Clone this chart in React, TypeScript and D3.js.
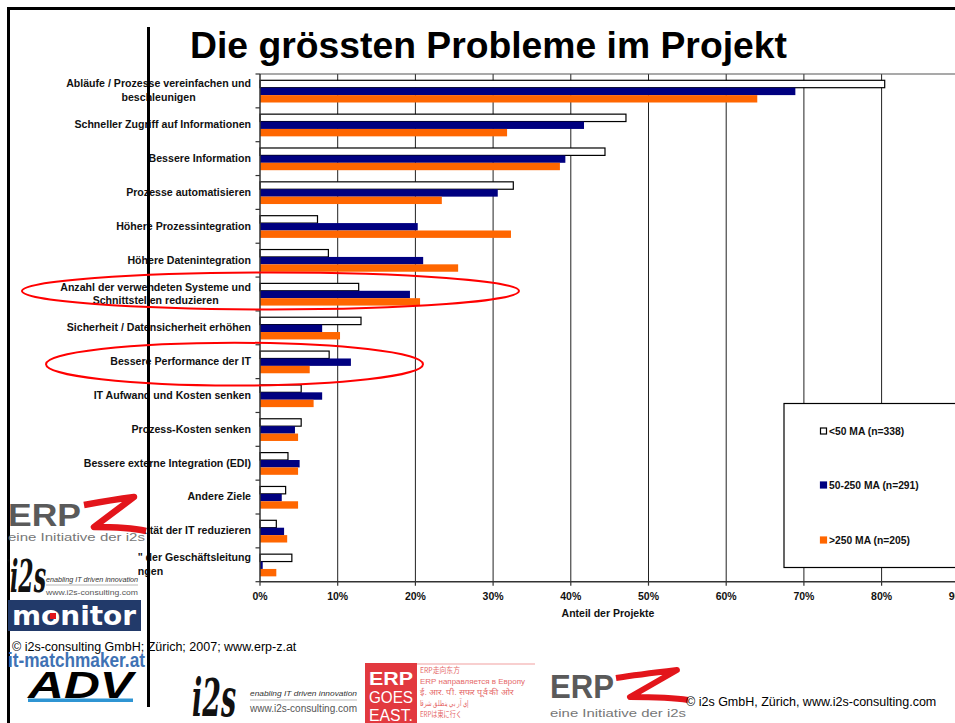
import React from "react";
import * as d3 from "d3";

const categories = [
  "Abläufe / Prozesse vereinfachen und\nbeschleunigen",
  "Schneller Zugriff auf Informationen",
  "Bessere Information",
  "Prozesse automatisieren",
  "Höhere Prozessintegration",
  "Höhere Datenintegration",
  "Anzahl der verwendeten Systeme und\nSchnittstellen reduzieren",
  "Sicherheit / Datensicherheit erhöhen",
  "Bessere Performance der IT",
  "IT Aufwand und Kosten senken",
  "Prozess-Kosten senken",
  "Bessere externe Integration (EDI)",
  "Andere Ziele",
  "Komplexität der IT reduzieren",
  "„Eigene Lieblingsprojekte\" der Geschäftsleitung\ndurchbringen",
];

const seriesNames = ["<50 MA (n=338)", "50-250 MA (n=291)", ">250 MA (n=205)"];
const small = [80.4, 47.1, 44.4, 32.6, 7.4, 8.8, 12.7, 13.0, 8.9, 5.3, 5.3, 3.6, 3.3, 2.1, 4.1];
const mid = [68.9, 41.7, 39.3, 30.6, 20.3, 21.0, 19.3, 8.0, 11.7, 8.0, 4.5, 5.1, 2.8, 3.1, 0.35];
const large = [64.0, 31.8, 38.6, 23.4, 32.3, 25.5, 20.6, 10.3, 6.4, 6.9, 4.9, 4.9, 4.9, 3.5, 2.1];
const xTicks = [0, 10, 20, 30, 40, 50, 60, 70, 80, 90];
const highlighted = ["Anzahl der verwendeten Systeme und\nSchnittstellen reduzieren", "Bessere Performance der IT"];

const seriesValues = [small, mid, large];
const fills = ["#ffffff", "#000080", "#ff6600"];
const strokes = ["#000000", "none", "none"];

const LABEL_FONT = "bold 10.6px 'Liberation Sans', Arial, sans-serif";
let ctx: CanvasRenderingContext2D | null = null;
function measure(t: string): number {
  if (!ctx) ctx = document.createElement("canvas").getContext("2d");
  if (!ctx) return t.length * 5.5;
  ctx.font = LABEL_FONT;
  return ctx.measureText(t).width;
}

export default function App() {
  const W = 955, H = 723;
  const x = d3.scaleLinear().domain([0, 90]).range([260, 959.3]);
  const y = d3.scaleBand<string>().domain(categories).range([74, 581.7]);
  const inner = d3.scaleBand<number>().domain([0, 1, 2]).range([6.3, 6.3 + 22.2]);
  const plotTop = 74, plotBottom = 581.7;
  const font = "'Liberation Sans', Arial, sans-serif";
  const labelRight = 251;

  const ellipse = (cat: string, x0: number, x1: number, padTop: number, padBottom: number) => {
    const b = y(cat)!;
    const top = b + padTop, bot = b + y.bandwidth() - padBottom;
    return { cx: (x0 + x1) / 2, cy: (top + bot) / 2, rx: (x1 - x0) / 2, ry: (bot - top) / 2 };
  };
  const e1 = ellipse(highlighted[0], 22, 519, -4.5, 1.5);
  const e2 = ellipse(highlighted[1], 46, 423, -2, -7);

  return (
    <svg width={W} height={H} style={{ position: "absolute", left: 0, top: 0, background: "#fff" }} fontFamily={font}>
      <rect x={0} y={0} width={W} height={H} fill="#fff" />
      {/* frame */}
      <rect x={8.5} y={8.5} width={980} height={760} fill="none" stroke="#000" strokeWidth={3} />

      {/* title */}
      <text x={190} y={58} fontSize={37.3} fontWeight="bold" fill="#000">Die grössten Probleme im Projekt</text>

      {/* gridlines */}
      {xTicks.slice(1).map((t) => (
        <line key={"g" + t} x1={x(t)} x2={x(t)} y1={plotTop} y2={plotBottom} stroke="#222" strokeWidth={1} />
      ))}
      <line x1={260} x2={970} y1={plotTop} y2={plotTop} stroke="#555" strokeWidth={1.2} />

      {/* bars */}
      {categories.map((c, i) => (
        <g key={"b" + i}>
          {seriesValues.map((vals, s) => (
            <rect
              key={s}
              x={x(0)}
              y={y(c)! + inner(s)!}
              width={x(vals[i]) - x(0)}
              height={inner.bandwidth()}
              fill={fills[s]}
              stroke={strokes[s]}
              strokeWidth={s === 0 ? 1.2 : 0}
            />
          ))}
        </g>
      ))}

      {/* axes */}
      <line x1={260} x2={260} y1={plotTop} y2={plotBottom} stroke="#333" strokeWidth={1.5} />
      {d3.range(categories.length + 1).map((k) => {
        const yy = plotTop + k * y.step();
        return <line key={"yt" + k} x1={255.5} x2={260} y1={yy} y2={yy} stroke="#333" strokeWidth={1.2} />;
      })}
      <line x1={260} x2={970} y1={plotBottom} y2={plotBottom} stroke="#333" strokeWidth={1.5} />
      {xTicks.map((t) => (
        <g key={"xt" + t}>
          <line x1={x(t)} x2={x(t)} y1={plotBottom} y2={plotBottom + 4} stroke="#333" strokeWidth={1.2} />
          <text x={x(t)} y={600} textAnchor="middle" fontSize={10.5} fontWeight="bold" fill="#111">{t + "%"}</text>
        </g>
      ))}
      <text x={608} y={617} textAnchor="middle" fontSize={10.5} fontWeight="bold" fill="#111">Anteil der Projekte</text>

      {/* category labels */}
      {categories.map((c, i) => {
        const lines = c.split("\n");
        const center = y(c)! + y.bandwidth() / 2;
        if (lines.length === 1) {
          return (
            <text key={"l" + i} x={labelRight} y={center + 3.4} textAnchor="end" fontSize={10.6} fontWeight="bold" fill="#111">{c}</text>
          );
        }
        const w = Math.max(...lines.map(measure));
        const cx = labelRight - w / 2;
        return (
          <text key={"l" + i} textAnchor="middle" fontSize={10.6} fontWeight="bold" fill="#111">
            {lines.map((ln, j) => (
              <tspan key={j} x={cx} y={center + 3.4 + (j - (lines.length - 1) / 2) * 13.7}>{ln}</tspan>
            ))}
          </text>
        );
      })}

      {/* legend */}
      <rect x={784} y={403.5} width={190} height={164} fill="#fff" stroke="#000" strokeWidth={1.2} />
      {seriesNames.map((n, s) => {
        const yy = [435, 489, 544][s];
        return (
          <g key={"lg" + s}>
            <rect x={820.5} y={yy - 7} width={6} height={6} fill={fills[s]} stroke={s === 0 ? "#000" : fills[s]} strokeWidth={1.2} />
            <text x={829} y={yy} fontSize={10.3} fontWeight="bold" fill="#111">{n}</text>
          </g>
        );
      })}

      {/* vertical separator */}
      <line x1={148.5} x2={148.5} y1={27} y2={707} stroke="#000" strokeWidth={3} />

      {/* left logos */}
      <rect x={10} y={496} width={135} height={49} fill="#fff" />
      <rect x={10} y={545} width={128} height={53} fill="#fff" />
      <text x={8} y={526} fontSize={32} fontWeight="bold" fill="#5a5a5a" textLength={73} lengthAdjust="spacingAndGlyphs">ERP</text>
      <path d="M84,505 C100,502 118,499 134,497 L94,527 C110,527 128,527 146,531" fill="none" stroke="#e3151b" strokeWidth={6.5} strokeLinejoin="round" />
      <text x={8} y={541} fontSize={11} fill="#777" textLength={137} lengthAdjust="spacingAndGlyphs">eine Initiative der i2s</text>

      <text x={10} y={592} fontSize={44} fontStyle="italic" fontWeight="bold" fill="#111" fontFamily="'DejaVu Serif', serif" textLength={36} lengthAdjust="spacingAndGlyphs">i2s</text>
      <text x={46} y={582} fontSize={7} fontStyle="italic" fill="#333" textLength={92} lengthAdjust="spacingAndGlyphs">enabling IT driven innovation</text>
      <line x1={46} x2={138} y1={585} y2={585} stroke="#999" strokeWidth={0.7} />
      <text x={46} y={595} fontSize={8} fill="#555" textLength={92} lengthAdjust="spacingAndGlyphs">www.i2s-consulting.com</text>

      <rect x={8} y={600} width={133} height={31} fill="#223a6a" />
      <text x={12} y={625} fontSize={26} fontWeight="bold" fill="#fff" fontFamily="'DejaVu Sans', sans-serif" textLength={124} lengthAdjust="spacingAndGlyphs">monitor</text>
      <rect x={50} y={613} width={6} height={6} fill="#e3151b" />

      <text x={12} y={651} fontSize={12.5} fill="#000">© i2s-consulting GmbH; Zürich; 2007; www.erp-z.at</text>
      <text x={8} y={667} fontSize={20} fontWeight="bold" fill="#3f72b4" textLength={137} lengthAdjust="spacingAndGlyphs">it-matchmaker.at</text>

      <text x={28} y={698} fontSize={36} fontWeight="bold" fontStyle="italic" fill="#000" textLength={105} lengthAdjust="spacingAndGlyphs">ADV</text>
      <rect x={28} y={698.5} width={105} height={3.5} fill="#2f95d3" />

      {/* bottom logos */}
      <text x={192} y={716} fontSize={52} fontStyle="italic" fontWeight="bold" fill="#111" fontFamily="'DejaVu Serif', serif" textLength={44} lengthAdjust="spacingAndGlyphs">i2s</text>
      <text x={250} y={696} fontSize={8} fontStyle="italic" fill="#333" textLength={107} lengthAdjust="spacingAndGlyphs">enabling IT driven innovation</text>
      <line x1={250} x2={357} y1={700} y2={700} stroke="#aaa" strokeWidth={0.8} />
      <text x={250} y={712} fontSize={10} fill="#555" textLength={107} lengthAdjust="spacingAndGlyphs">www.i2s-consulting.com</text>

      <rect x={365} y={663} width={52} height={60} fill="#e2393f" />
      <text x={369} y={685} fontSize={19} fontWeight="bold" fill="#fff" textLength={44} lengthAdjust="spacingAndGlyphs">ERP</text>
      <text x={369} y={703} fontSize={16} fill="#fff" textLength={44} lengthAdjust="spacingAndGlyphs">GOES</text>
      <text x={369} y={721} fontSize={16} fill="#fff" textLength={44} lengthAdjust="spacingAndGlyphs">EAST.</text>
      <line x1={417} x2={535} y1={664} y2={664} stroke="#f2a0a0" strokeWidth={1.2} />
      <g fill="#e56a6a" fontSize={8}>
        <text x={420} y={673} fontFamily="'Noto Sans CJK SC', sans-serif" textLength={40} lengthAdjust="spacingAndGlyphs">ERP走向东方</text>
        <text x={420} y={684} textLength={105} lengthAdjust="spacingAndGlyphs">ERP направляется в Европу</text>
        <text x={420} y={695} textLength={93} lengthAdjust="spacingAndGlyphs">ई. आर. पी. सफर पूर्व की ओर</text>
        <text x={420} y={706} textLength={48} lengthAdjust="spacingAndGlyphs">إي آر بي ينطلق شرقا</text>
        <text x={420} y={717} fontFamily="'Noto Sans CJK JP', sans-serif" textLength={42} lengthAdjust="spacingAndGlyphs">ERPは東に行く</text>
      </g>

      <text x={550} y={698} fontSize={34} fontWeight="bold" fill="#5a5a5a" textLength={64} lengthAdjust="spacingAndGlyphs">ERP</text>
      <path d="M616,678 C635,675 660,672 677,670 L630,697 C650,697 670,697 688,700" fill="none" stroke="#e3151b" strokeWidth={6} strokeLinejoin="round" />
      <text x={550} y={717} fontSize={11} fill="#777" textLength={136} lengthAdjust="spacingAndGlyphs">eine Initiative der i2s</text>
      <text x={686} y={706} fontSize={12.5} fill="#000">© i2s GmbH, Zürich, www.i2s-consulting.com</text>

      {/* highlight ellipses */}
      <ellipse cx={e1.cx} cy={e1.cy} rx={e1.rx} ry={e1.ry} fill="none" stroke="#ff0000" strokeWidth={2} />
      <ellipse cx={e2.cx} cy={e2.cy} rx={e2.rx} ry={e2.ry} fill="none" stroke="#ff0000" strokeWidth={2} />
    </svg>
  );
}
